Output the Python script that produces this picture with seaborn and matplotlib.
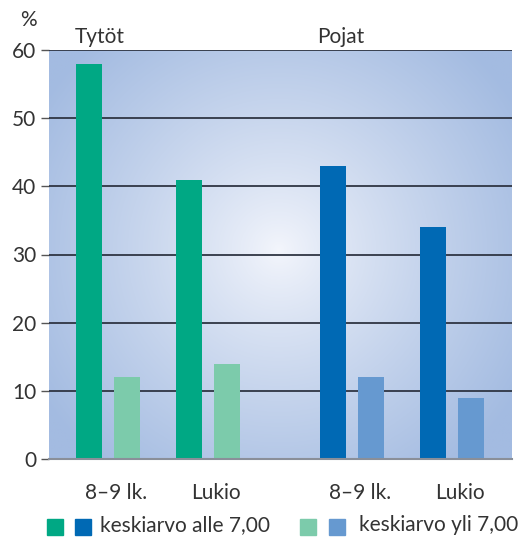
import numpy as np
import pandas as pd
import matplotlib
matplotlib.use("Agg")
import matplotlib.pyplot as plt
from matplotlib.patches import Rectangle
import seaborn as sns

# ---------------------------------------------------------
# DATA
# ---------------------------------------------------------
genders = ["Tytöt", "Pojat"]
levels = ["8–9 lk.", "Lukio"]
series = ["keskiarvo alle 7,00", "keskiarvo yli 7,00"]

girls_low = [58, 41]
girls_high = [12, 14]
boys_low = [43, 34]
boys_high = [12, 9]

colors = {
    ("Tytöt", "keskiarvo alle 7,00"): "#00a884",
    ("Tytöt", "keskiarvo yli 7,00"): "#7ccbab",
    ("Pojat", "keskiarvo alle 7,00"): "#0069b4",
    ("Pojat", "keskiarvo yli 7,00"): "#6699d0",
}

values = {
    ("Tytöt", "keskiarvo alle 7,00"): girls_low,
    ("Tytöt", "keskiarvo yli 7,00"): girls_high,
    ("Pojat", "keskiarvo alle 7,00"): boys_low,
    ("Pojat", "keskiarvo yli 7,00"): boys_high,
}

# slot layout: bar step 2, level step 5, gender step 12
rows = []
for gi, g in enumerate(genders):
    for li, lev in enumerate(levels):
        for si, s in enumerate(series):
            rows.append({
                "pos": float(gi * 12.15 + li * 5 + si * 1.9),
                "value": values[(g, s)][li],
                "key": g + "|" + s,
                "gender": g, "level": lev,
            })
df = pd.DataFrame(rows)
palette = {g + "|" + s: c for (g, s), c in colors.items()}

# ---------------------------------------------------------
# PLOT
# ---------------------------------------------------------
sns.set_style("white")
plt.rcParams["font.family"] = ["Lato", "DejaVu Sans"]
txt_color = "#333333"

W, H = 527, 537
fig = plt.figure(figsize=(W / 100, H / 100), dpi=100)
ax = fig.add_axes([49 / W, 1 - 459 / H, (512 - 49) / W, (459 - 50) / H])

xlim = (-2.0, 21.1)
ax.set_xlim(*xlim)
ax.set_ylim(0, 60)

# radial gradient background
nx, ny = 400, 360
xx, yy = np.meshgrid(np.linspace(0, 1, nx), np.linspace(0, 1, ny))
px = xx * 463
py = yy * 409
r = np.sqrt((px - 230) ** 2 + (py - 200) ** 2)
t = np.clip(r / 280, 0, 1) ** 0.85
center = np.array([244, 246, 252]) / 255
edge = np.array([163, 187, 225]) / 255
img = center[None, None, :] * (1 - t[..., None]) + edge[None, None, :] * t[..., None]
ax.imshow(img, extent=[xlim[0], xlim[1], 0, 60], origin="upper",
          aspect="auto", zorder=0)

for yv in range(10, 61, 10):
    ax.axhline(yv, color="#2f3543", lw=1.3, zorder=1)

sns.barplot(data=df, x="pos", y="value", hue="key", palette=palette,
            native_scale=True, dodge=False, width=0.68, legend=False,
            saturation=1, linewidth=0, edgecolor="none", ax=ax, zorder=2)

ax.set_xlim(*xlim)
ax.set_ylim(0, 60)
ax.set_xlabel("")
ax.set_ylabel("")

for sp in ["top", "right", "left"]:
    ax.spines[sp].set_visible(False)
ax.spines["bottom"].set_color("#8a8f99")
ax.spines["bottom"].set_linewidth(1.5)
ax.spines["bottom"].set_zorder(3)

ax.set_yticks(range(0, 61, 10))
ax.set_yticklabels([str(v) for v in range(0, 61, 10)], fontsize=15, color=txt_color)
ax.tick_params(axis="y", length=6, width=1, color="#555555", pad=3, left=True)

# level labels under each pair
pair_centers = df.groupby(["gender", "level"], sort=False)["pos"].mean()
ax.set_xticks(list(pair_centers.values + 0.4))
ax.set_xticklabels([lev for (_, lev) in pair_centers.index], fontsize=15, color=txt_color)
ax.tick_params(axis="x", length=0, pad=17, bottom=True)
ax.set_xticks(list(xlim), minor=True)
ax.tick_params(axis="x", which="minor", length=6, width=1, color="#555555")

# gender labels above
gender_x = {"Tytöt": 100, "Pojat": 341}
for g in genders:
    fig.text(gender_x[g] / W, 1 - 37 / H, g, ha="center", va="center",
             fontsize=15, color=txt_color)
fig.text(28 / W, 1 - 20 / H, "%", ha="center", va="center", fontsize=15, color=txt_color)

# legend
legend_items = [
    ([(47, colors[("Tytöt", series[0])]), (75, colors[("Pojat", series[0])])], 100, series[0]),
    ([(300, colors[("Tytöt", series[1])]), (329, colors[("Pojat", series[1])])], 359, series[1]),
]
for squares, tx, label in legend_items:
    for sx, c in squares:
        fig.patches.append(Rectangle((sx / W, 1 - 535 / H), 16 / W, 16 / H,
                                     transform=fig.transFigure, color=c))
    fig.text(tx / W, 1 - 531 / H, label, ha="left", va="baseline",
             fontsize=15, color=txt_color)

fig.savefig("out.png", dpi=100)
